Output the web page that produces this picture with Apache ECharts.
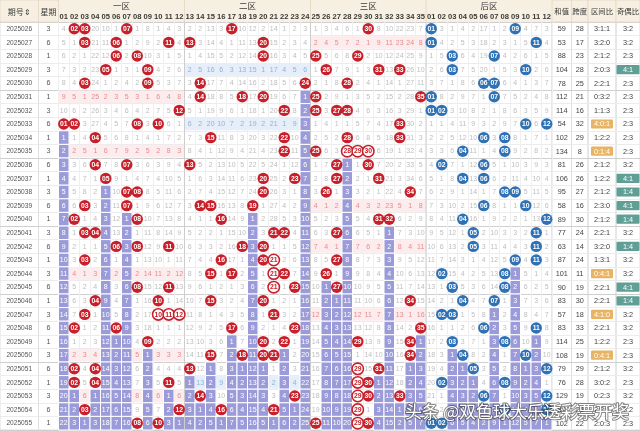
<!DOCTYPE html>
<html>
<head>
<meta charset="utf-8">
<script src="https://cdn.jsdelivr.net/npm/echarts@6/dist/echarts.min.js"></script>
<style>
  html, body { margin: 0; padding: 0; background: #fff; }
  #chart { width: 640px; height: 431px; }
</style>
</head>
<body>
<div id="chart"></div>
<script>
// ---- draw data ----
const issues = ['2025026','2025027','2025028','2025029','2025030','2025031','2025032','2025033','2025034','2025035',
  '2025036','2025037','2025038','2025039','2025040','2025041','2025042','2025043','2025044','2025045',
  '2025046','2025047','2025048','2025049','2025050','2025051','2025052','2025053','2025054','2025055'];
const weekdays = [3,6,1,3,6,1,3,6,1,3,6,1,3,6,1,3,6,1,3,6,1,3,6,1,3,6,1,3,6,1];
const frontDraws = [
  [2,3,7,17,30],[3,6,11,13,20],[6,8,20,25,29],[5,9,26,31,33],[3,9,14,24,28],
  [14,18,20,25,35],[12,22,25,27,28],[1,2,8,10,33],[4,15,22,28,33],[22,25,28,29,30],
  [4,7,13,27,30],[5,20,23,27,31],[7,8,20,26,34],[3,7,14,15,19],[2,8,16,31,32],
  [3,4,21,22,27],[6,8,11,18,20],[3,16,20,21,27],[15,17,21,22,26],[8,11,21,23,27],
  [4,10,15,20,34],[3,10,11,12,21],[2,6,17,23,35],[9,20,22,29,34],[15,18,20,21,34],
  [2,4,13,29,31],[2,4,11,29,30],[14,23,29,30,33],[3,12,16,21,29],[8,10,25,29,30]
];
const backDraws = [
  [1,9],[1,11],[3,7],[3,10],[6,7],[1,7],[1,2],[10,12],[6,8],[4,8],
  [2,6],[4,6],[8,9],[6,10],[4,12],[5,11],[5,11],[9,11],[2,8],[3,8],
  [4,7],[2,3],[6,11],[3,8],[4,10],[5,12],[2,8],[6,12],[8,12],[1,2]
];
// omission counts shown on the first issue (null = drawn on that issue)
const frontStartMiss = [4,null,null,20,10,1,null,1,8,1,4,3, 2,2,13,3,null,10,12,2,14,1,2,3, 1,3,4,6,1,null,8,10,22,23,7];
const backStartMiss = [null,3,1,4,2,17,1,2,null,4,7,3];
// balls drawn as rings (runs / streaks)
const ringedBalls = [['2025035',28],['2025035',29],['2025035',30],['2025043',21],['2025044',21],['2025045',21],
  ['2025047',10],['2025047',11],['2025047',12],['2025051',29],['2025052',29],['2025053',29],['2025054',29],['2025055',29]];

const sums = [59,53,88,104,78,112,114,54,102,134,81,106,95,58,89,77,63,87,101,90,83,57,83,114,108,79,76,129,81,102];
const spans = [28,17,23,28,25,21,16,32,29,8,26,26,27,16,30,24,14,24,11,19,30,18,33,25,19,29,28,19,26,22];
const zoneRatios = ['3:1:1','3:2:0','2:1:2','2:0:3','2:2:1','0:3:2','1:1:3','4:0:1','1:2:2','0:1:4',
  '2:1:2','1:2:2','2:1:2','2:3:0','2:1:2','2:2:1','3:2:0','1:3:1','0:4:1','2:2:1',
  '2:2:1','4:1:0','2:2:1','1:2:2','0:4:1','2:1:2','3:0:2','0:2:3','2:2:1','2:0:3'];
const oddEven = ['3:2','3:2','2:3','4:1','2:3','2:3','2:3','2:3','2:3','2:3',
  '3:2','4:1','1:4','4:1','1:4','3:2','1:4','3:2','3:2','4:1',
  '1:4','3:2','3:2','2:3','2:3','3:2','2:3','3:2','3:2','2:3'];

// ---- tick labels ----
const frontNums = ['01','02','03','04','05','06','07','08','09','10','11','12','13','14','15','16','17','18',
  '19','20','21','22','23','24','25','26','27','28','29','30','31','32','33','34','35'];
const backNums = ['01','02','03','04','05','06','07','08','09','10','11','12'];
const zoneNames = ['一区','二区','三区','后区'];
const zoneFirstCol = [0, 12, 24, 35];
const zoneLastCol = [11, 23, 34, 46];
const sideHeaders = ['期号⇕','星期','和值','跨度','区间比','奇偶比'];

// ---- styling ----
const NUM_FONT = '"Liberation Sans", Arial, sans-serif';
const CJK_FONT = '"Noto Sans CJK SC", sans-serif';
const HEAD_BG = '#f7efe1';
const HEAD_LINE = '#e6dcc8';
const RED = '#c8202a';
const BLUE = '#2f71b5';
const PURPLE = '#9b9bd9';
const MISS_COLOR = '#bdbdbd';
const BAND = [{ fill: '#fdeced', text: '#e58c8c' }, { fill: '#e6eff9', text: '#90b2d8' }, { fill: '#fdeced', text: '#e58c8c' }];
const ORANGE = '#e8b463';
const TEAL = '#5f9f95';
const HEADER_H = 22;

// grid rectangles: [left, width]
const gridRects = [[0, 38.5], [38.5, 20], [58.5, 493.5], [552, 19.5], [571.5, 16.5], [588, 28], [616, 24]];
const MAIN = 2;

// ---- derived cell table ----
const nFront = frontNums.length;
const nCols = nFront + backNums.length;
const colKeys = frontNums.map(n => 'F' + n).concat(backNums.map(n => 'B' + n));
const isDrawn = (k, c) => c < nFront ? frontDraws[k].includes(c + 1) : backDraws[k].includes(c - nFront + 1);
const startMiss = frontStartMiss.concat(backStartMiss);
const zoneOfCol = c => zoneFirstCol.filter(f => c >= f).length - 1;
const cells = issues.map(() => []);
for (let c = 0; c < nCols; c++) {
  let last = -1;
  issues.forEach((_, k) => { if (isDrawn(k, c)) last = k; });
  let miss = startMiss[c];
  for (let k = 0; k < issues.length; k++) {
    const drawn = isDrawn(k, c);
    cells[k][c] = { drawn, miss: drawn ? null : miss, cold: k > last };
    miss = drawn ? 1 : miss + 1;
  }
}
const zoneCounts = frontDraws.map(d => [0, 1, 2].map(z => d.filter(n => zoneOfCol(n - 1) === z).length));
const ringSet = new Set(ringedBalls.map(r => r[0] + '-' + r[1]));

// ---- renderers ----
function renderMainCell(params, api) {
  const c = api.value(0), k = api.value(1);
  const p = api.coord([c, k]);
  const s = api.size([1, 1]);
  const w = s[0], h = s[1];
  const x0 = p[0] - w / 2, y0 = p[1] - h / 2;
  const cell = cells[k][c];
  const z = zoneOfCol(c);
  const kids = [];
  let textColor = MISS_COLOR;
  if (cell.cold) {
    kids.push({ type: 'rect', shape: { x: x0, y: y0, width: w, height: h }, style: { fill: PURPLE, stroke: '#fff', lineWidth: 1 } });
    textColor = '#fff';
  } else if (z < 3 && zoneCounts[k][z] === 0) {
    kids.push({ type: 'rect', shape: { x: x0, y: y0 + 0.5, width: w, height: h - 1 }, style: { fill: BAND[z].fill } });
    textColor = BAND[z].text;
  }
  if (c > 0 && zoneFirstCol.includes(c)) {
    kids.push({ type: 'line', z2: 5, shape: { x1: x0, y1: y0, x2: x0, y2: y0 + h }, style: { stroke: '#cdcdcd', lineWidth: 1 } });
  }
  if (cell.drawn) {
    const front = c < nFront;
    const label = front ? frontNums[c] : backNums[c - nFront];
    const ringed = front && ringSet.has(issues[k] + '-' + (c + 1));
    kids.push({ type: 'circle', z2: 10, shape: { cx: p[0], cy: p[1], r: 5.7 },
      style: ringed ? { fill: '#fff', stroke: RED, lineWidth: 1.6 } : { fill: front ? RED : BLUE } });
    kids.push({ type: 'text', z2: 11, x: p[0], y: p[1] + 0.3,
      style: { text: label, fill: ringed ? RED : '#fff', fontSize: 6.8, fontWeight: 'bold', fontFamily: NUM_FONT, align: 'center', verticalAlign: 'middle' } });
  } else {
    kids.push({ type: 'text', z2: 6, x: p[0], y: p[1] + 0.3,
      style: { text: String(cell.miss), fill: textColor, fontSize: 7, fontFamily: NUM_FONT, align: 'center', verticalAlign: 'middle' } });
  }
  return { type: 'group', children: kids };
}

function renderColHeader(params, api) {
  const c = api.value(0);
  const p = api.coord([c, 0]);
  const w = api.size([1, 1])[0];
  const top = params.coordSys.y - HEADER_H / 2;
  const kids = [
    { type: 'rect', shape: { x: p[0] - w / 2, y: top, width: w, height: HEADER_H / 2 }, style: { fill: HEAD_BG } },
    { type: 'text', z2: 3, x: p[0], y: top + HEADER_H / 4 + 0.5,
      style: { text: c < nFront ? frontNums[c] : backNums[c - nFront], fill: '#3a3a3a', fontSize: 7.6, fontWeight: 'bold', fontFamily: NUM_FONT, align: 'center', verticalAlign: 'middle' } }
  ];
  if (c > 0 && zoneFirstCol.includes(c)) {
    kids.push({ type: 'line', z2: 4, shape: { x1: p[0] - w / 2, y1: params.coordSys.y - HEADER_H, x2: p[0] - w / 2, y2: params.coordSys.y }, style: { stroke: HEAD_LINE, lineWidth: 1 } });
  }
  return { type: 'group', children: kids };
}

function renderZoneHeader(params, api) {
  const z = api.value(0);
  const w = api.size([1, 1])[0];
  const xa = api.coord([zoneFirstCol[z], 0])[0] - w / 2;
  const xb = api.coord([zoneLastCol[z], 0])[0] + w / 2;
  const top = params.coordSys.y - HEADER_H;
  return { type: 'group', children: [
    { type: 'rect', shape: { x: xa, y: top, width: xb - xa, height: HEADER_H / 2 }, style: { fill: HEAD_BG } },
    { type: 'text', z2: 3, x: (xa + xb) / 2, y: top + HEADER_H / 4 + 0.5,
      style: { text: zoneNames[z], fill: '#3a3a3a', fontSize: 8.5, fontFamily: CJK_FONT, align: 'center', verticalAlign: 'middle' } }
  ] };
}

function makeSideRenderer(header, values, opts) {
  return function (params, api) {
    const k = api.value(1);
    const p = api.coord([0, k]);
    const cs = params.coordSys;
    const kids = [];
    if (params.dataIndex === 0) {
      kids.push({ type: 'rect', shape: { x: cs.x, y: cs.y - HEADER_H, width: cs.width, height: HEADER_H },
        style: { fill: HEAD_BG, stroke: HEAD_LINE, lineWidth: 1 } });
      kids.push({ type: 'text', z2: 3, x: cs.x + cs.width / 2, y: cs.y - HEADER_H / 2 + 0.5,
        style: { text: header, fill: '#3a3a3a', fontSize: opts.headSize || 7.4, fontFamily: CJK_FONT, align: 'center', verticalAlign: 'middle' } });
    }
    const v = String(values[k]);
    const badge = opts.badge ? opts.badge(v) : null;
    if (badge) {
      kids.push({ type: 'rect', z2: 2, shape: { x: p[0] - opts.badgeW / 2, y: p[1] - 4.6, width: opts.badgeW, height: 9.2, r: 1 }, style: { fill: badge } });
    }
    kids.push({ type: 'text', z2: 3, x: p[0], y: p[1] + 0.3,
      style: { text: v, fill: badge ? '#fff' : (opts.color || '#444'), fontSize: opts.size || 7.3, fontFamily: NUM_FONT, align: 'center', verticalAlign: 'middle' } });
    return { type: 'group', children: kids };
  };
}

// ---- option ----
const rowLineColors = ['#cfcfcf', '#ececec', '#ececec', '#ececec', '#ececec'];
const grids = gridRects.map(r => ({ left: r[0], width: r[1], top: HEADER_H, bottom: 1, show: true,
  borderColor: '#dedede', borderWidth: 1, backgroundColor: 'transparent', outerBoundsMode: 'none', containLabel: false }));
const xAxes = gridRects.map((r, i) => ({
  type: 'category', gridIndex: i, position: 'top',
  data: i === MAIN ? colKeys : ['col'],
  axisLine: { show: false }, axisTick: { show: false }, axisLabel: { show: false },
  splitLine: { show: i === MAIN, interval: 0, lineStyle: { color: '#efefef', width: 1 } }
}));
const yAxes = gridRects.map((r, i) => ({
  type: 'category', gridIndex: i, inverse: true, data: issues,
  axisLine: { show: false }, axisTick: { show: false }, axisLabel: { show: false },
  splitLine: { show: true, interval: 0, lineStyle: { color: rowLineColors, width: 1 } }
}));

const mainData = [];
issues.forEach((_, k) => { for (let c = 0; c < nCols; c++) mainData.push([c, k]); });
const rowData = issues.map((_, k) => [0, k]);

const sideSpecs = [
  { grid: 0, header: sideHeaders[0], values: issues, opts: { size: 6.6, color: '#555', headSize: 8 } },
  { grid: 1, header: sideHeaders[1], values: weekdays, opts: { size: 7.2, color: '#555', headSize: 8 } },
  { grid: 3, header: sideHeaders[2], values: sums, opts: {} },
  { grid: 4, header: sideHeaders[3], values: spans, opts: {} },
  { grid: 5, header: sideHeaders[4], values: zoneRatios, opts: { badgeW: 22, badge: v => v.includes('4') ? ORANGE : null } },
  { grid: 6, header: sideHeaders[5], values: oddEven, opts: { badgeW: 23, badge: v => (v === '4:1' || v === '1:4') ? TEAL : null } }
];

const series = [
  { type: 'custom', name: 'cells', xAxisIndex: MAIN, yAxisIndex: MAIN, data: mainData, renderItem: renderMainCell, clip: false, silent: true },
  { type: 'custom', name: 'colHeader', xAxisIndex: MAIN, yAxisIndex: MAIN, data: colKeys.map((_, c) => [c, 0]), renderItem: renderColHeader, clip: false, silent: true },
  { type: 'custom', name: 'zoneHeader', xAxisIndex: MAIN, yAxisIndex: MAIN, data: zoneNames.map((_, z) => [z, 0]), renderItem: renderZoneHeader, clip: false, silent: true }
].concat(sideSpecs.map(s => ({
  type: 'custom', xAxisIndex: s.grid, yAxisIndex: s.grid, data: rowData,
  renderItem: makeSideRenderer(s.header, s.values, s.opts), clip: false, silent: true
})));

const chart = echarts.init(document.getElementById('chart'), null, { renderer: 'canvas', width: 640, height: 431 });
chart.setOption({
  animation: false,
  backgroundColor: '#ffffff',
  grid: grids,
  xAxis: xAxes,
  yAxis: yAxes,
  series: series,
  graphic: [{
    type: 'text', right: 10, bottom: 10, z: 100,
    style: { text: '头条 @双色球大乐透彩票开奖', fill: '#ffffff', fontSize: 17, fontFamily: CJK_FONT,
      stroke: 'rgba(40,40,40,0.55)', lineWidth: 2, shadowColor: 'rgba(0,0,0,0.5)', shadowBlur: 3 }
  }]
});
</script>
</body>
</html>
